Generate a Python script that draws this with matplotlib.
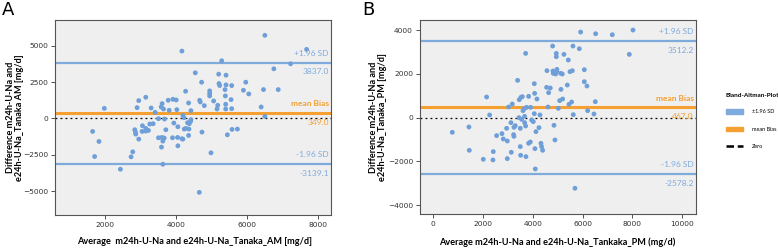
"""Bland-Altman plots, AM and PM Tanaka estimates."""

import matplotlib.pyplot as plt
from matplotlib.lines import Line2D
from matplotlib.patches import Patch

# panel A: average vs difference (mg/d)
am_avg = [6508, 7686, 4169, 5291, 7234, 6762, 4546, 5206, 5413, 4725, 5215, 5234, 5413, 5970,
          4273, 4952, 4952, 4952, 5385, 5573, 5394, 5555, 5904, 6055, 6470, 6885, 6404, 6508,
          3150, 2952, 2905, 1981, 3301, 3414, 3584, 3612, 3650, 3782, 3810, 3914, 4008, 4027,
          4357, 4423, 4669, 4688, 4800, 5064, 5178, 5159, 5404, 5404, 5573, 4226, 4423, 4329,
          4376, 4414, 3942, 4055, 3678, 3508, 3263, 3357, 3150, 3225, 3056, 3046, 3150, 2839,
          2858, 2867, 2952, 1651, 1830, 1707, 2783, 2735, 2434, 3603, 3650, 3508, 3669, 3631,
          3593, 3716, 3904, 4046, 4169, 4197, 4055, 4357, 4235, 4367, 4282, 4735, 5583, 5734,
          5451, 4989, 3631, 4659, 4197]
am_diff = [5714, 4746, 4631, 3963, 3756, 3410, 3133, 3041, 2972, 2488, 2396, 2258, 2304, 2488,
           1866, 1889, 1705, 1544, 1981, 2258, 1544, 1290, 1935, 1682, 1981, 1981, 783, 138,
           1452, 1221, 737, 691, 714, 415, 783, 1014, 645, 1244, 553, 1313, 1267, 599,
           1060, 530, 1244, 1129, 875, 1198, 898, 645, 968, 645, 668, 46, -92, -300,
           -369, -207, -323, -576, -46, -23, -392, -369, -691, -829, -507, -899, -876, -783,
           -945, -1083, -1428, -899, -1590, -2627, -2304, -2650, -3502, -1313, -1359, -1336, -1359, -1567,
           -1981, -783, -1336, -1313, -1405, -1428, -1889, -1175, -737, -737, -691, -945, -760, -737,
           -1129, -2373, -3157, -5092, 207]
am_limits = {"upper": 3837.0, "bias": 349.0, "lower": -3139.1}

# panel B
pm_avg = [764, 1434, 1448, 2144, 2265, 2010, 2412, 2399, 2546, 2760, 2814, 2975, 2948, 2975,
          3028, 3176, 3122, 3136, 3229, 3243, 3243, 3296, 3390, 3444, 3457, 3497, 3524, 3551,
          3497, 3511, 3578, 3605, 3659, 3672, 3712, 3672, 3712, 3725, 3752, 3832, 3832, 3913,
          3953, 3900, 4020, 4060, 4060, 4074, 4087, 4100, 4127, 4167, 4248, 4288, 4328, 4355,
          4395, 4569, 4555, 4636, 4703, 4610, 4797, 4810, 4824, 4877, 4945, 4945, 4958, 4971,
          4918, 4851, 4891, 5025, 5079, 5132, 5199, 5119, 5186, 5253, 5427, 5387, 5454, 5494,
          5561, 5588, 5615, 5628, 5695, 5869, 5923, 6070, 6070, 6177, 6204, 6459, 6512, 6526,
          7196, 7879, 8027]
pm_diff = [-669, -426, -1491, 943, 122, -1901, -1551, -1932, -821, -730, -973, -1065, -487, -1871,
           487, 624, -228, -1582, -776, -852, -441, -365, 1703, 0, 821, -487, 928, -76,
           -1323, -1719, 958, 319, 411, 61, 2935, -228, -380, -1780, 471, 973, -1171, 471,
           -106, -1110, -182, 182, 1551, 1110, -1414, -2342, -639, 852, -456, 122, -1171, -1323,
           -1491, 2145, 1384, 1141, 1354, 487, 3270, 2129, 2023, 2068, 2935, 2783, 2114, 2205,
           1993, -350, -1019, 426, 776, 1293, 852, 2023, 1993, 2890, 2631, 1490, 608, 2099,
           715, 2145, 3270, 137, -3225, 3148, 3909, 2190, 1643, 1445, 319, 167, 730, 3833,
           3787, 2890, 4000]
pm_limits = {"upper": 3512.2, "bias": 467.0, "lower": -2578.2}

BLUE = "#6f9fd8"
LINE_BLUE = "#7eaadc"
ORANGE = "#f5a030"
BG = "#efefef"


def bland_altman(ax, avg, diff, limits, xlim, ylim, xticks, yticks):
    ax.set_facecolor(BG)
    ax.scatter(avg, diff, s=12, color=BLUE, edgecolors="none", zorder=3)
    ax.axhline(limits["upper"], color=LINE_BLUE, lw=1.6, zorder=2)
    ax.axhline(limits["lower"], color=LINE_BLUE, lw=1.6, zorder=2)
    ax.axhline(limits["bias"], color=ORANGE, lw=2.2, zorder=2)
    ax.axhline(0, color="black", lw=0.9, ls=(0, (1.5, 2.5)), zorder=2)
    ax.set_xlim(*xlim)
    ax.set_ylim(*ylim)
    ax.set_xticks(xticks)
    ax.set_yticks(yticks)
    ax.tick_params(labelsize=5.4, length=3, width=0.6, pad=2, colors="#333333")
    for side in ax.spines.values():
        side.set_color("#555555")
        side.set_linewidth(0.8)

    x_txt = xlim[1] - (xlim[1] - xlim[0]) * 0.008
    off = (ylim[1] - ylim[0]) * 0.03
    kw = dict(ha="right", fontsize=6, family="Lato", zorder=4)
    ax.text(x_txt, limits["upper"] + off, "+1.96 SD", va="bottom", color=LINE_BLUE, **kw)
    ax.text(x_txt, limits["upper"] - off, f"{limits['upper']:.1f}", va="top", color=LINE_BLUE, **kw)
    ax.text(x_txt, limits["bias"] + off, "mean Bias", va="bottom", color=ORANGE,
            fontweight="bold", **kw)
    ax.text(x_txt, limits["bias"] - off, f"{limits['bias']:.1f}", va="top", color=ORANGE, **kw)
    ax.text(x_txt, limits["lower"] + off, "-1.96 SD", va="bottom", color=LINE_BLUE, **kw)
    ax.text(x_txt, limits["lower"] - off, f"{limits['lower']:.1f}", va="top", color=LINE_BLUE, **kw)


fig = plt.figure(figsize=(7.78, 2.48), dpi=100)
ax_a = fig.add_axes([0.0707, 0.1331, 0.3548, 0.7863])
ax_b = fig.add_axes([0.5398, 0.1371, 0.3548, 0.7823])

bland_altman(ax_a, am_avg, am_diff, am_limits, (590, 8375), (-6650, 6770),
             [2000, 4000, 6000, 8000], [-5000, -2500, 0, 2500, 5000])
bland_altman(ax_b, pm_avg, pm_diff, pm_limits, (-535, 10560), (-4400, 4460),
             [0, 2000, 4000, 6000, 8000, 10000], [-4000, -2000, 0, 2000, 4000])

lab = dict(fontsize=6.6, fontweight="bold", family="Lato")
ax_a.set_xlabel("Average  m24h-U-Na and e24h-U-Na_Tanaka_AM [mg/d]", **lab)
ax_a.set_ylabel("Difference m24h-U-Na and\ne24h-U-Na_Tanaka AM [mg/d]",
                linespacing=1.0, **lab)
ax_b.set_xlabel("Average m24h-U-Na and e24h-U-Na_Tankaka_PM (mg/d)", **lab)
ax_b.set_ylabel("Difference m24h-U-Na and\ne24h-U-Na_Tanaka_PM [mg/d]",
                linespacing=1.0, **lab)
ax_a.xaxis.set_label_coords(0.504, -0.115)
ax_b.xaxis.set_label_coords(0.497, -0.12)
ax_a.yaxis.set_label_coords(-0.112, 0.5)
ax_b.yaxis.set_label_coords(-0.12, 0.5)

fig.text(0.003, 0.995, "A", fontsize=13, va="top", ha="left")
fig.text(0.465, 0.995, "B", fontsize=13, va="top", ha="left")

handles = [Patch(color=LINE_BLUE, label="\u00b11.96 SD"),
           Patch(color=ORANGE, label="mean Bias"),
           Line2D([], [], color="black", lw=1.8, ls=(0, (3, 1.5)), label="Zero")]
leg = fig.legend(handles=handles, title="Bland-Altman-Plot", loc="upper left",
                 bbox_to_anchor=(0.929, 0.636), frameon=False, borderpad=0,
                 prop={"family": "Lato", "size": 4},
                 title_fontproperties={"family": "Lato", "size": 4.6, "weight": "bold"},
                 handlelength=3.2, handleheight=0.9, labelspacing=2.2, handletextpad=1.6)
leg._legend_box.align = "left"
leg._legend_box.sep = 8

fig.savefig("out.png", dpi=100)
